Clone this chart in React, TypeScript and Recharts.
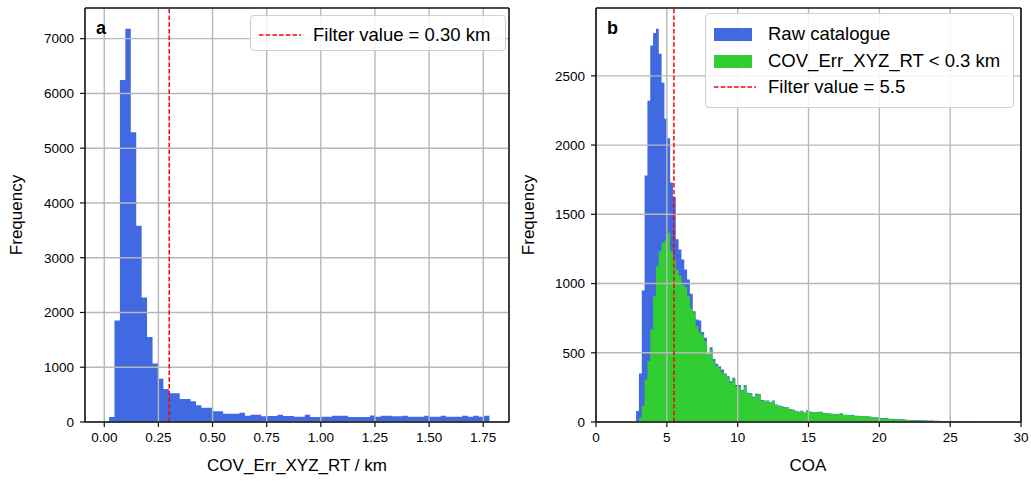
import React from 'react';
import { ComposedChart, Area, XAxis, YAxis, ReferenceLine, Legend } from 'recharts';

const FONT = '"Liberation Sans", Arial, Helvetica, sans-serif';

// ---------- Panel a: COV_Err_XYZ_RT histogram ----------
const covBinStart = 0.022;
const covBinWidth = 0.0251;
const covCounts = [
  90, 1852, 6247, 7180, 5289, 3583, 2272, 1554, 1066, 792,
  603, 524, 524, 420, 420, 378, 305, 262, 262, 196,
  196, 152, 152, 152, 170, 115, 133, 133, 104, 110,
  110, 133, 110, 110, 97, 97, 133, 91, 91, 97,
  97, 115, 115, 115, 91, 91, 91, 91, 120, 97,
  115, 115, 104, 104, 115, 97, 97, 97, 115, 97,
  97, 115, 97, 97, 97, 115, 97, 115, 97, 115,
];
const covXTicks = [0, 0.25, 0.5, 0.75, 1.0, 1.25, 1.5, 1.75];
const covYTicks = [0, 1000, 2000, 3000, 4000, 5000, 6000, 7000];
const covXDomain: [number, number] = [-0.089, 1.869];
const covYMax = 7560;
const covFilter = 0.3;
const covLegendLabel = 'Filter value = 0.30 km';

// ---------- Panel b: COA histogram ----------
const coaBinStart = 2.83;
const coaBinWidth = 0.2;
const coaRaw = [
  80, 350, 950, 1780, 2320, 2720, 2810, 2840, 2660, 2450,
  2190, 2050, 1730, 1625, 1320, 1245, 1173, 1101, 1029, 926,
  800, 740, 733, 650, 608, 490, 540, 455, 420, 400,
  380, 350, 330, 295, 320, 268, 268, 232, 268, 212,
  208, 183, 206, 202, 158, 156, 155, 143, 155, 126,
  120, 114, 106, 106, 94, 90, 82, 75, 81, 69,
  86, 76, 72, 72, 74, 74, 64, 64, 62, 59,
  57, 60, 64, 52, 52, 50, 52, 45, 45, 43,
  43, 42, 40, 35, 35, 32, 28, 28, 30, 23,
  23, 22, 22, 19, 19, 17, 14, 14, 14, 13,
  12, 12, 11, 10, 10, 9, 9, 8, 8, 7,
  7, 7, 8, 6, 7, 5, 6, 5, 6,
];
const coaFiltered = [
  8, 31, 115, 307, 440, 668, 908, 1125, 1233, 1294,
  1310, 1366, 1233, 1178, 1100, 1058, 990, 975, 908, 825,
  789, 692, 646, 632, 584, 488, 524, 440, 404, 392,
  356, 343, 320, 284, 312, 259, 259, 223, 259, 204,
  200, 175, 200, 196, 151, 151, 151, 139, 151, 122,
  116, 111, 103, 103, 91, 87, 79, 72, 79, 67,
  84, 74, 70, 70, 72, 72, 62, 62, 60, 57,
  55, 58, 62, 50, 50, 48, 50, 43, 43, 41,
  41, 40, 38, 33, 33, 30, 26, 26, 28, 21,
  21, 20, 20, 17, 17, 15, 12, 12, 12, 11,
  10, 10, 9, 8, 8, 7, 7, 6, 6, 5,
  5, 5, 6, 4, 5, 3, 4, 3, 4,
];
const coaXTicks = [0, 5, 10, 15, 20, 25, 30];
const coaYTicks = [0, 500, 1000, 1500, 2000, 2500];
const coaXDomain: [number, number] = [0, 30];
const coaYMax = 2990;
const coaFilter = 5.5;
const coaLegendLabels = ['Raw catalogue', 'COV_Err_XYZ_RT < 0.3 km', 'Filter value = 5.5'];

// ---------- colours ----------
const BLUE = '#4169e1';
const GREEN = '#32cd32';
const RED = '#ff0000';
const GRID = '#b8b8b8';
const SPINE = '#111111';

function buildSteps(start: number, width: number, series: Record<string, number[]>) {
  const keys = Object.keys(series);
  const n = series[keys[0]].length;
  const rows: Record<string, number>[] = [];
  for (let i = 0; i <= n; i++) {
    const row: Record<string, number> = { x: start + i * width };
    keys.forEach((k) => {
      row[k] = i < n ? series[k][i] : 0;
    });
    rows.push(row);
  }
  return rows;
}

const covData = buildSteps(covBinStart, covBinWidth, { count: covCounts });
const coaData = buildSteps(coaBinStart, coaBinWidth, { raw: coaRaw, filtered: coaFiltered });

const tickStyle = { fill: '#000', fontSize: 13.5, fontFamily: FONT };

const DashSample = () => (
  <svg width={42} height={6} style={{ display: 'block' }}>
    <line x1={0} y1={3} x2={42} y2={3} stroke={RED} strokeWidth={1.5} strokeDasharray="4.5 2.2" />
  </svg>
);

const PatchSample = ({ color }: { color: string }) => (
  <div style={{ width: 38, height: 13, background: color }} />
);

const legendBox: React.CSSProperties = {
  position: 'relative',
  boxSizing: 'border-box',
  border: '1.2px solid #d0d0d0',
  borderRadius: 4,
  background: 'rgba(255,255,255,0.85)',
  fontFamily: FONT,
  fontSize: 18.5,
  color: '#000',
};

const rowStyle = (center: number): React.CSSProperties => ({
  position: 'absolute',
  left: 8,
  top: center - 12,
  height: 24,
  display: 'flex',
  alignItems: 'center',
  whiteSpace: 'nowrap',
});

const CovLegend = () => (
  <div style={{ ...legendBox, width: 256, height: 36 }}>
    <div style={rowStyle(18.5)}>
      <DashSample />
      <span style={{ marginLeft: 12 }}>{covLegendLabel}</span>
    </div>
  </div>
);

const CoaLegend = () => (
  <div style={{ ...legendBox, width: 309, height: 95 }}>
    <div style={rowStyle(20)}>
      <PatchSample color={BLUE} />
      <span style={{ marginLeft: 16 }}>{coaLegendLabels[0]}</span>
    </div>
    <div style={rowStyle(47)}>
      <PatchSample color={GREEN} />
      <span style={{ marginLeft: 16 }}>{coaLegendLabels[1]}</span>
    </div>
    <div style={rowStyle(73)}>
      <DashSample />
      <span style={{ marginLeft: 12 }}>{coaLegendLabels[2]}</span>
    </div>
  </div>
);

const axisTitle = (text: string, x: number, y: number, rotate = false) => () => (
  <text
    x={x}
    y={y}
    textAnchor="middle"
    fontFamily={FONT}
    fontSize={17}
    fill="#000"
    transform={rotate ? `rotate(-90, ${x}, ${y})` : undefined}
  >
    {text}
  </text>
);

const panelLetter = (letter: string, x: number, y: number) => () => (
  <text x={x} y={y} fontFamily={FONT} fontSize={18} fontWeight="bold" fill="#000">
    {letter}
  </text>
);

function frameLines(xDomain: [number, number], yMax: number, letter: string, letterX: number) {
  return [
    <ReferenceLine key="fb" y={0} stroke={SPINE} strokeWidth={1.6} />,
    <ReferenceLine key="ft" y={yMax} stroke={SPINE} strokeWidth={1.6} />,
    <ReferenceLine
      key="fl"
      x={xDomain[0]}
      stroke={SPINE}
      strokeWidth={1.6}
      label={panelLetter(letter, letterX, 34)}
    />,
    <ReferenceLine key="fr" x={xDomain[1]} stroke={SPINE} strokeWidth={1.6} />,
  ];
}

const CovPanel = () => (
  <ComposedChart
    width={510}
    height={483}
    data={covData}
    margin={{ top: 8, right: 1, bottom: 6, left: 25 }}
  >
    <XAxis
      type="number"
      dataKey="x"
      domain={covXDomain}
      allowDataOverflow
      ticks={covXTicks}
      interval={0}
      tickFormatter={(v: number) => v.toFixed(2)}
      tickSize={5}
      tickMargin={5}
      height={55}
      axisLine={false}
      tickLine={{ stroke: SPINE, strokeWidth: 1.2 }}
      tick={tickStyle}
      label={axisTitle('COV_Err_XYZ_RT / km', 297, 471)}
    />
    <YAxis
      type="number"
      domain={[0, covYMax]}
      allowDataOverflow
      ticks={covYTicks}
      interval={0}
      width={60}
      tickSize={5}
      tickMargin={6}
      axisLine={false}
      tickLine={{ stroke: SPINE, strokeWidth: 1.2 }}
      tick={tickStyle}
      label={axisTitle('Frequency', 22, 215, true)}
    />
    <Area
      type="stepAfter"
      dataKey="count"
      stroke="none"
      fill={BLUE}
      fillOpacity={1}
      isAnimationActive={false}
      dot={false}
      activeDot={false}
    />
    {covXTicks.map((t) => (
      <ReferenceLine key={`gx${t}`} x={t} stroke={GRID} strokeWidth={1.4} />
    ))}
    {covYTicks.map((t) => (
      <ReferenceLine key={`gy${t}`} y={t} stroke={GRID} strokeWidth={1.4} />
    ))}
    <ReferenceLine x={covFilter} stroke={RED} strokeWidth={1.5} strokeDasharray="4.5 2.2" />
    {frameLines(covXDomain, covYMax, 'a', 96)}
    <Legend
      layout="horizontal"
      verticalAlign="middle"
      align="center"
      content={() => <CovLegend />}
      wrapperStyle={{ left: 250, top: 15, width: 256, height: 36 }}
    />
  </ComposedChart>
);

const CoaPanel = () => (
  <ComposedChart
    width={521}
    height={483}
    data={coaData}
    margin={{ top: 8, right: 10, bottom: 6, left: 26 }}
  >
    <XAxis
      type="number"
      dataKey="x"
      domain={coaXDomain}
      allowDataOverflow
      ticks={coaXTicks}
      interval={0}
      tickSize={5}
      tickMargin={5}
      height={55}
      axisLine={false}
      tickLine={{ stroke: SPINE, strokeWidth: 1.2 }}
      tick={tickStyle}
      label={axisTitle('COA', 298, 471)}
    />
    <YAxis
      type="number"
      domain={[0, coaYMax]}
      allowDataOverflow
      ticks={coaYTicks}
      interval={0}
      width={60}
      tickSize={5}
      tickMargin={6}
      axisLine={false}
      tickLine={{ stroke: SPINE, strokeWidth: 1.2 }}
      tick={tickStyle}
      label={axisTitle('Frequency', 24, 215, true)}
    />
    <Area
      type="stepAfter"
      dataKey="raw"
      stroke="none"
      fill={BLUE}
      fillOpacity={1}
      isAnimationActive={false}
      dot={false}
      activeDot={false}
    />
    <Area
      type="stepAfter"
      dataKey="filtered"
      stroke="none"
      fill={GREEN}
      fillOpacity={1}
      isAnimationActive={false}
      dot={false}
      activeDot={false}
    />
    {coaXTicks.map((t) => (
      <ReferenceLine key={`gx${t}`} x={t} stroke={GRID} strokeWidth={1.4} />
    ))}
    {coaYTicks.map((t) => (
      <ReferenceLine key={`gy${t}`} y={t} stroke={GRID} strokeWidth={1.4} />
    ))}
    <ReferenceLine x={coaFilter} stroke={RED} strokeWidth={1.5} strokeDasharray="4.5 2.2" />
    {frameLines(coaXDomain, coaYMax, 'b', 97)}
    <Legend
      layout="horizontal"
      verticalAlign="middle"
      align="center"
      content={() => <CoaLegend />}
      wrapperStyle={{ left: 195, top: 13, width: 309, height: 95 }}
    />
  </ComposedChart>
);

export default function App() {
  return (
    <div
      style={{
        position: 'absolute',
        left: 0,
        top: 0,
        width: 1031,
        height: 483,
        background: '#fff',
        fontFamily: FONT,
      }}
    >
      <div style={{ position: 'absolute', left: 0, top: 0 }}>
        <CovPanel />
      </div>
      <div style={{ position: 'absolute', left: 510, top: 0 }}>
        <CoaPanel />
      </div>
    </div>
  );
}
